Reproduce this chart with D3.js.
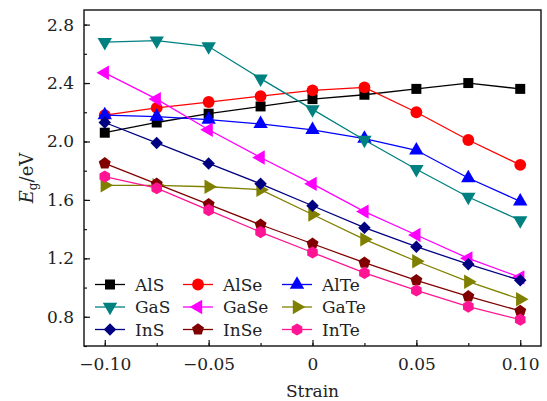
<!DOCTYPE html>
<html>
<head>
<meta charset="utf-8">
<script src="https://cdn.jsdelivr.net/npm/d3@7"></script>
</head>
<body style="margin:0;background:#fff">
<div id="chart"></div>
<script>
// strain values (x axis)
var strain = [-0.1, -0.075, -0.05, -0.025, 0, 0.025, 0.05, 0.075, 0.1];

// band gap (eV) for each material
var names = ["AlS", "AlSe", "AlTe", "GaS", "GaSe", "GaTe", "InS", "InSe", "InTe"];
var AlS  = [2.06, 2.13, 2.19, 2.24, 2.29, 2.32, 2.36, 2.40, 2.36];
var AlSe = [2.18, 2.23, 2.27, 2.31, 2.35, 2.37, 2.20, 2.01, 1.84];
var AlTe = [2.18, 2.17, 2.15, 2.12, 2.08, 2.02, 1.94, 1.75, 1.59];
var GaS  = [2.68, 2.69, 2.65, 2.43, 2.22, 2.01, 1.81, 1.62, 1.46];
var GaSe = [2.47, 2.29, 2.08, 1.89, 1.71, 1.52, 1.36, 1.20, 1.07];
var GaTe = [1.70, 1.70, 1.69, 1.67, 1.50, 1.33, 1.18, 1.04, 0.92];
var InS  = [2.13, 1.99, 1.85, 1.71, 1.56, 1.41, 1.28, 1.16, 1.05];
var InSe = [1.85, 1.71, 1.57, 1.43, 1.30, 1.17, 1.05, 0.94, 0.84];
var InTe = [1.76, 1.68, 1.53, 1.38, 1.24, 1.10, 0.98, 0.87, 0.78];
var seriesValues = [AlS, AlSe, AlTe, GaS, GaSe, GaTe, InS, InSe, InTe];

var colors = ["#000000", "#ff0000", "#0000ff", "#008080", "#ff00ff", "#808000", "#000080", "#800000", "#ff1493"];
var markers = ["square", "circle", "up", "down", "left", "right", "diamond", "pentagon", "hexagon"];

var xTicks = [-0.1, -0.05, 0, 0.05, 0.1];
var xTickLabels = ["\u22120.10", "\u22120.05", "0", "0.05", "0.10"];
var xMinor = [-0.1, -0.075, -0.05, -0.025, 0, 0.025, 0.05, 0.075, 0.1];
var yTicks = [0.8, 1.2, 1.6, 2.0, 2.4, 2.8];
var yTickLabels = ["0.8", "1.2", "1.6", "2.0", "2.4", "2.8"];
var yMinor = [0.6, 0.8, 1.0, 1.2, 1.4, 1.6, 1.8, 2.0, 2.2, 2.4, 2.6, 2.8];

var width = 547, height = 401;
var margin = {top: 10, right: 6, bottom: 55, left: 84};
var FONT = "DejaVu Serif";
var fontSize = 17;

// apply the serif face directly on each text node
function styleText(sel, size) {
  sel.attr("font-family", FONT)
     .attr("font-size", size)
     .attr("fill", "#222")
     .style("font-family", FONT)
     .style("font-size", size + "px");
}

var svg = d3.select("#chart").append("svg")
    .attr("width", width)
    .attr("height", height)
    .attr("font-family", FONT);

var x = d3.scaleLinear().domain([-0.11, 0.11]).range([margin.left, width - margin.right]);
var y = d3.scaleLinear().domain([0.6, 2.9]).range([height - margin.bottom, margin.top]);

// polygon symbol helper (pentagon / hexagon)
function polygon(n, r, rot) {
  var pts = d3.range(n).map(function(i) {
    var a = rot + i * 2 * Math.PI / n;
    return [r * Math.sin(a), -r * Math.cos(a)];
  });
  return "M" + pts.join("L") + "Z";
}

function markerPath(kind) {
  switch (kind) {
    case "square": return d3.symbol(d3.symbolSquare, 100)();
    case "circle": return d3.symbol(d3.symbolCircle, 110)();
    case "diamond": return d3.symbol(d3.symbolDiamond2, 100)();
    case "pentagon": return polygon(5, 6.3, 0);
    case "hexagon": return polygon(6, 6.1, 0);
    default: return d3.symbol(d3.symbolTriangle, 90)();
  }
}
function markerRot(kind) {
  return {down: 180, left: -90, right: 90}[kind] || 0;
}

// lines and markers
var line = d3.line()
    .x(function(d, i) { return x(strain[i]); })
    .y(function(d) { return y(d); });

seriesValues.forEach(function(vals, k) {
  var g = svg.append("g").attr("class", "series");
  g.append("path")
      .attr("d", line(vals))
      .attr("fill", "none")
      .attr("stroke", colors[k])
      .attr("stroke-width", 1.3);
  g.selectAll("path.mk")
    .data(vals)
    .enter().append("path")
      .attr("class", "mk")
      .attr("d", markerPath(markers[k]))
      .attr("fill", colors[k])
      .attr("transform", function(d, i) {
        return "translate(" + x(strain[i]) + "," + y(d) + ") rotate(" + markerRot(markers[k]) + ")";
      });
});

// frame
svg.append("rect")
    .attr("x", margin.left)
    .attr("y", margin.top)
    .attr("width", width - margin.right - margin.left)
    .attr("height", height - margin.bottom - margin.top)
    .attr("fill", "none")
    .attr("stroke", "#111")
    .attr("stroke-width", 1.4);

// x axis (ticks inward)
var xAxis = svg.append("g")
    .attr("transform", "translate(0," + (height - margin.bottom) + ")");
xAxis.call(d3.axisBottom(x).tickValues(xMinor).tickSize(-3).tickFormat(""));
xAxis.append("g").call(d3.axisBottom(x).tickValues(xTicks).tickSize(-6)
    .tickFormat(function(d, i) { return xTickLabels[i]; }).tickPadding(12));
xAxis.selectAll(".domain").remove();
xAxis.selectAll("line").attr("stroke", "#111").attr("stroke-width", 1.2);
xAxis.selectAll("g").attr("font-family", FONT).attr("font-size", fontSize);
xAxis.attr("font-family", FONT).attr("font-size", fontSize);
styleText(xAxis.selectAll("text"), fontSize);

// y axis (ticks inward)
var yAxis = svg.append("g")
    .attr("transform", "translate(" + margin.left + ",0)");
yAxis.call(d3.axisLeft(y).tickValues(yMinor).tickSize(-3).tickFormat(""));
yAxis.append("g").call(d3.axisLeft(y).tickValues(yTicks).tickSize(-6)
    .tickFormat(function(d, i) { return yTickLabels[i]; }).tickPadding(10));
yAxis.selectAll(".domain").remove();
yAxis.selectAll("line").attr("stroke", "#111").attr("stroke-width", 1.2);
yAxis.selectAll("g").attr("font-family", FONT).attr("font-size", fontSize);
yAxis.attr("font-family", FONT).attr("font-size", fontSize);
styleText(yAxis.selectAll("text"), fontSize);

// axis titles
styleText(svg.append("text")
    .attr("x", x(0))
    .attr("y", 397)
    .attr("text-anchor", "middle")
    .text("Strain"), fontSize);

var yt = svg.append("text")
    .attr("transform", "translate(33," + ((margin.top + height - margin.bottom) / 2) + ") rotate(-90)")
    .attr("text-anchor", "middle");
styleText(yt, 18);
yt.append("tspan").attr("font-style", "italic").style("font-style", "italic").text("E");
yt.append("tspan").attr("dy", 4).style("font-size", "12px").text("g");
yt.append("tspan").attr("dy", -4).text("/eV");

// legend: 3 columns x 3 rows
var legCols = [95, 183, 282];
var legRows = [284.5, 307, 329.5];
var legend = svg.append("g").attr("class", "legend");
names.forEach(function(name, k) {
  var cx = legCols[k % 3], cy = legRows[Math.floor(k / 3)];
  var g = legend.append("g").attr("transform", "translate(" + cx + "," + cy + ")");
  g.append("line")
      .attr("x1", 0).attr("x2", 30)
      .attr("stroke", colors[k]).attr("stroke-width", 1.3);
  g.append("path")
      .attr("d", markerPath(markers[k]))
      .attr("fill", colors[k])
      .attr("transform", "translate(15,0) rotate(" + markerRot(markers[k]) + ")");
  styleText(g.append("text")
      .attr("x", 40)
      .attr("y", 6)
      .text(name), fontSize);
});
</script>
</body>
</html>
